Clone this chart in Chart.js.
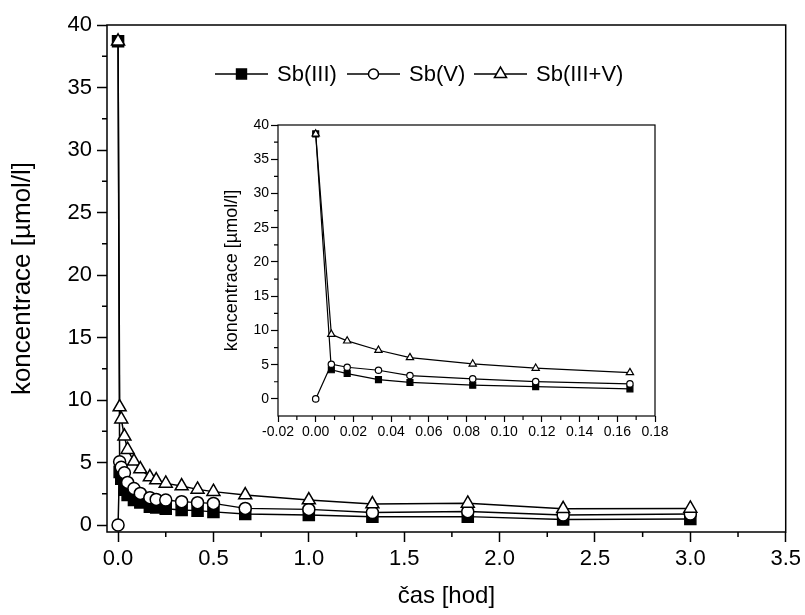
<!DOCTYPE html>
<html>
<head>
<meta charset="utf-8">
<script src="https://cdn.jsdelivr.net/npm/chart.js@4.4.1/dist/chart.umd.min.js"></script>
<style>
  body { margin: 0; background: #fff; }
  #main { position: absolute; left: 0; top: 0; }
  #inset { position: absolute; left: 195px; top: 110px; }
</style>
</head>
<body>
<canvas id="main" width="805" height="615"></canvas>
<canvas id="inset" width="485" height="340"></canvas>
<script>
// sampling times [hod]
const times = [0, 0.0083, 0.0167, 0.0333, 0.05, 0.0833, 0.1167, 0.1667, 0.2, 0.25,
  0.3333, 0.4167, 0.5, 0.6667, 1.0, 1.3333, 1.8333, 2.3333, 3.0];
const sb3 = [38.7, 4.25, 3.7, 2.82, 2.4, 2.0, 1.8, 1.46, 1.4, 1.3,
  1.2, 1.15, 1.05, 0.88, 0.8, 0.67, 0.67, 0.45, 0.48];
const sb5 = [0, 5.06, 4.62, 4.18, 3.41, 2.92, 2.53, 2.19, 2.05, 2.0,
  1.87, 1.79, 1.73, 1.33, 1.25, 1.0, 1.07, 0.8, 0.88];
const sb35 = [38.7, 9.44, 8.47, 7.1, 6.03, 5.1, 4.48, 3.84, 3.6, 3.33,
  3.12, 2.85, 2.67, 2.4, 2.0, 1.68, 1.73, 1.3, 1.33];
const seriesNames = ["Sb(III)", "Sb(V)", "Sb(III+V)"];

// the inset zooms on the first 10 minutes
const insetCount = 8;

const mainXTicks = [0, 0.5, 1.0, 1.5, 2.0, 2.5, 3.0, 3.5];
const mainYTicks = [0, 5, 10, 15, 20, 25, 30, 35, 40];
const insetXTicks = [-0.02, 0, 0.02, 0.04, 0.06, 0.08, 0.10, 0.12, 0.14, 0.16, 0.18];
const insetYTicks = [0, 5, 10, 15, 20, 25, 30, 35, 40];

const FONT = "'Liberation Sans', Arial, Helvetica, sans-serif";

const pts = (ys, n) => ys.slice(0, n).map((y, i) => ({ x: times[i], y }));

function series(n, radius, width) {
  const styles = [
    { pointStyle: "rect", fill: "#000", r: radius.rect, order: 2 },
    { pointStyle: "circle", fill: "#fff", r: radius.circle, order: 1 },
    { pointStyle: "triangle", fill: "#fff", r: radius.triangle, order: 0 },
  ];
  return [sb3, sb5, sb35].map((ys, i) => ({
    label: seriesNames[i],
    data: pts(ys, n),
    order: styles[i].order,
    borderColor: "#000",
    borderWidth: width,
    pointStyle: styles[i].pointStyle,
    pointRadius: styles[i].r,
    pointBackgroundColor: styles[i].fill,
    pointBorderColor: "#000",
    pointBorderWidth: width,
    tension: 0,
  }));
}

// box around the plot + short minor ticks between the labelled ones
const frameMinor = {
  id: "frameMinor",
  afterDraw(chart, args, opts) {
    const { ctx, chartArea: a, scales } = chart;
    ctx.save();
    ctx.strokeStyle = "#000";
    ctx.lineWidth = opts.lineWidth;
    ctx.strokeRect(a.left, a.top, a.right - a.left, a.bottom - a.top);
    ctx.beginPath();
    const mids = s => {
      const v = s.ticks.map(t => t.value), out = [];
      for (let i = 0; i < v.length - 1; i++) out.push((v[i] + v[i + 1]) / 2);
      return out;
    };
    mids(scales.x).forEach(v => {
      const p = scales.x.getPixelForValue(v);
      ctx.moveTo(p, a.bottom); ctx.lineTo(p, a.bottom + opts.minorLen);
    });
    mids(scales.y).forEach(v => {
      const p = scales.y.getPixelForValue(v);
      ctx.moveTo(a.left, p); ctx.lineTo(a.left - opts.minorLen, p);
    });
    ctx.stroke();
    ctx.restore();
  },
};

// Origin-style legend: line through the marker, then the name
const lineLegend = {
  id: "lineLegend",
  afterDraw(chart, args, opts) {
    const ctx = chart.ctx;
    ctx.save();
    chart.data.datasets.forEach((d, i) => {
      const x0 = opts.x[i], y = opts.y;
      ctx.strokeStyle = "#000";
      ctx.lineWidth = 1.5;
      ctx.beginPath();
      ctx.moveTo(x0, y); ctx.lineTo(x0 + opts.lineLen, y);
      ctx.stroke();
      ctx.fillStyle = d.pointBackgroundColor;
      Chart.helpers.drawPoint(ctx, {
        pointStyle: d.pointStyle, radius: opts.radius[i], rotation: 0, borderWidth: 1.5,
      }, x0 + opts.lineLen / 2, y);
      ctx.fillStyle = "#000";
      ctx.font = opts.font;
      ctx.textBaseline = "middle";
      ctx.fillText(d.label, x0 + opts.lineLen + 9, y + 1);
    });
    ctx.restore();
  },
};

function axis(opts) {
  return {
    type: "linear",
    min: opts.min,
    max: opts.max,
    afterBuildTicks: s => { s.ticks = opts.ticks.map(v => ({ value: v })); },
    afterFit: s => { if (opts.width) s.width = opts.width; if (opts.height) s.height = opts.height; },
    border: { display: false },
    grid: { drawOnChartArea: false, drawTicks: true, tickLength: opts.tickLen, tickColor: "#000", tickWidth: opts.tickWidth },
    ticks: { color: "#000", padding: opts.pad, maxRotation: 0, autoSkip: false, font: { family: FONT, size: opts.fontSize },
      callback: v => opts.fmt(v) },
    title: opts.title || { display: false },
  };
}

new Chart(document.getElementById("main"), {
  type: "line",
  data: { datasets: series(times.length, { rect: 7.8, circle: 6, triangle: 7.5 }, 1.5) },
  options: {
    responsive: false,
    animation: false,
    events: [],
    layout: { padding: { top: 25, right: 18, left: 0, bottom: 0 } },
    plugins: {
      legend: { display: false },
      tooltip: { enabled: false },
      frameMinor: { lineWidth: 1.5, minorLen: 5 },
      lineLegend: { x: [215, 347, 474], y: 74, lineLen: 53, radius: [7, 5, 7], font: "22px " + FONT },
    },
    scales: {
      x: axis({ min: -0.058, max: 3.5, ticks: mainXTicks, height: 83, tickLen: 10, tickWidth: 1.5, pad: 4, fontSize: 22,
        fmt: v => v.toFixed(1),
        title: { display: true, text: "čas [hod]", color: "#000", font: { family: FONT, size: 24 }, padding: { top: 0, bottom: 4 } } }),
      y: axis({ min: -0.56, max: 40, ticks: mainYTicks, width: 107, tickLen: 10, tickWidth: 1.5, pad: 5, fontSize: 22,
        fmt: v => String(v),
        title: { display: true, text: "koncentrace [µmol/l]", color: "#000", font: { family: FONT, size: 26 }, padding: { top: 7, bottom: 0 } } }),
    },
  },
  plugins: [frameMinor, lineLegend],
});

new Chart(document.getElementById("inset"), {
  type: "line",
  data: { datasets: series(insetCount, { rect: 4.2, circle: 3.2, triangle: 4.2 }, 1.2) },
  options: {
    responsive: false,
    animation: false,
    events: [],
    layout: { padding: { top: 15, right: 25, left: 0, bottom: 0 } },
    plugins: {
      legend: { display: false },
      tooltip: { enabled: false },
      frameMinor: { lineWidth: 1.2, minorLen: 4 },
    },
    scales: {
      x: axis({ min: -0.02, max: 0.18, ticks: insetXTicks, height: 34, tickLen: 6, tickWidth: 1.2, pad: 2, fontSize: 14,
        fmt: v => (Math.abs(v) < 1e-9 ? 0 : v).toFixed(2) }),
      y: axis({ min: -2.5, max: 40, ticks: insetYTicks, width: 83, tickLen: 7, tickWidth: 1.2, pad: 2, fontSize: 14,
        fmt: v => String(v),
        title: { display: true, text: "koncentrace [µmol/l]", color: "#000", font: { family: FONT, size: 18 }, padding: { top: 26, bottom: 0 } } }),
    },
  },
  plugins: [frameMinor],
});
</script>
</body>
</html>
